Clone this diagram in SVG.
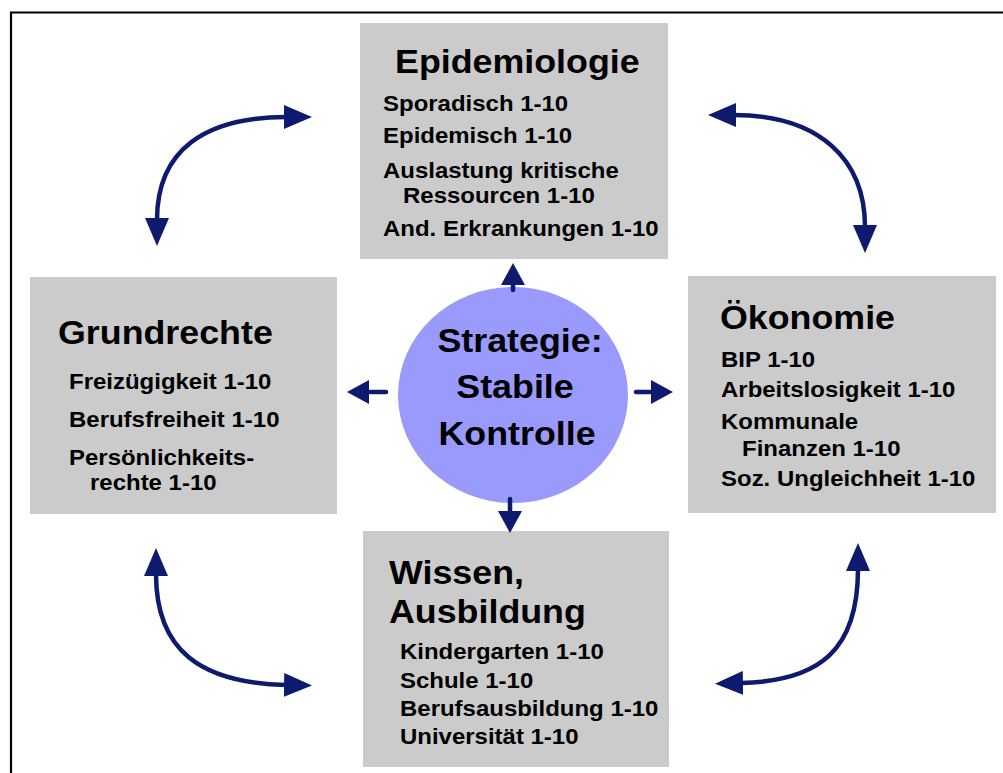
<svg xmlns="http://www.w3.org/2000/svg" width="1003" height="773" viewBox="0 0 1003 773">
<defs>
<style>
.box{fill:#cbcbcb}
.t{font-family:"Liberation Sans",Arial,sans-serif;font-weight:bold;fill:#000}
.h{font-size:33px}
.i{font-size:22px}
.c{font-size:33px;text-anchor:middle}
.arc{fill:none;stroke:#0d1a6e;stroke-width:4.5;stroke-linecap:round}
</style>
<marker id="ah" markerUnits="userSpaceOnUse" viewBox="0 0 28 24" markerWidth="28" markerHeight="24" refX="2" refY="12" orient="auto-start-reverse">
<path d="M0,0 L28,12 L0,24 z" fill="#0d1a6e"/>
</marker>
<marker id="sh" markerUnits="userSpaceOnUse" viewBox="0 0 22 24" markerWidth="22" markerHeight="24" refX="1" refY="12" orient="auto">
<path d="M0,0 L22,12 L0,24 z" fill="#0d1a6e"/>
</marker>
</defs>
<rect width="1003" height="773" fill="#fff"/>
<path d="M11,773 L11,12.5 L1003,12.5" fill="none" stroke="#000" stroke-width="2.2"/>

<g id="epidemiologie">
<rect class="box" x="360" y="23" width="308" height="236"/>
<text class="t h" transform="translate(395,73) scale(1.085,1)">Epidemiologie</text>
<text class="t i" transform="translate(383,111) scale(1.09,1)">Sporadisch 1-10</text>
<text class="t i" transform="translate(383,143) scale(1.09,1)">Epidemisch 1-10</text>
<text class="t i" transform="translate(383,178) scale(1.09,1)">Auslastung kritische</text>
<text class="t i" transform="translate(403,203) scale(1.09,1)">Ressourcen 1-10</text>
<text class="t i" transform="translate(383,236) scale(1.09,1)">And. Erkrankungen 1-10</text>
</g>

<g id="grundrechte">
<rect class="box" x="30" y="277" width="307" height="237"/>
<text class="t h" transform="translate(58,344) scale(1.085,1)">Grundrechte</text>
<text class="t i" transform="translate(69,389) scale(1.09,1)">Freizügigkeit 1-10</text>
<text class="t i" transform="translate(69,427) scale(1.09,1)">Berufsfreiheit 1-10</text>
<text class="t i" transform="translate(69,465) scale(1.09,1)">Persönlichkeits-</text>
<text class="t i" transform="translate(90,490) scale(1.09,1)">rechte 1-10</text>
</g>

<g id="oekonomie">
<rect class="box" x="688" y="276" width="308" height="237"/>
<text class="t h" transform="translate(720,329) scale(1.085,1)">Ökonomie</text>
<text class="t i" transform="translate(721,367) scale(1.09,1)">BIP 1-10</text>
<text class="t i" transform="translate(721,397) scale(1.09,1)">Arbeitslosigkeit 1-10</text>
<text class="t i" transform="translate(721,429) scale(1.09,1)">Kommunale</text>
<text class="t i" transform="translate(742,456) scale(1.09,1)">Finanzen 1-10</text>
<text class="t i" transform="translate(721,486) scale(1.09,1)">Soz. Ungleichheit 1-10</text>
</g>

<g id="wissen">
<rect class="box" x="363" y="531" width="306" height="236"/>
<text class="t h" transform="translate(389,584) scale(1.085,1)">Wissen,</text>
<text class="t h" transform="translate(389,623) scale(1.085,1)">Ausbildung</text>
<text class="t i" transform="translate(400,659) scale(1.09,1)">Kindergarten 1-10</text>
<text class="t i" transform="translate(400,688) scale(1.09,1)">Schule 1-10</text>
<text class="t i" transform="translate(400,716) scale(1.09,1)">Berufsausbildung 1-10</text>
<text class="t i" transform="translate(400,744) scale(1.09,1)">Universität 1-10</text>
</g>

<g id="strategie">
<ellipse cx="513" cy="395" rx="115" ry="108" fill="#9a9afc"/>
<text class="t c" transform="translate(520,352) scale(1.085,1)">Strategie:</text>
<text class="t c" transform="translate(515,398) scale(1.085,1)">Stabile</text>
<text class="t c" transform="translate(517,445) scale(1.085,1)">Kontrolle</text>
</g>

<g id="connectors">
<path class="arc" d="M157,220 C157,150 205,117 286,117" marker-start="url(#ah)" marker-end="url(#ah)"/>
<path class="arc" d="M734,115 C820,115 865,160 865,227" marker-start="url(#ah)" marker-end="url(#ah)"/>
<path class="arc" d="M156,574 C156,650 200,683 286,685" marker-start="url(#ah)" marker-end="url(#ah)"/>
<path class="arc" d="M741,683 C820,681 858,650 858,569" marker-start="url(#ah)" marker-end="url(#ah)"/>
<path class="arc" d="M513,290 L513,284" marker-end="url(#sh)"/>
<path class="arc" d="M386,392 L368,392" marker-end="url(#sh)"/>
<path class="arc" d="M636,392 L652,392" marker-end="url(#sh)"/>
<path class="arc" d="M510,499 L510,512" marker-end="url(#sh)"/>
</g>
</svg>
